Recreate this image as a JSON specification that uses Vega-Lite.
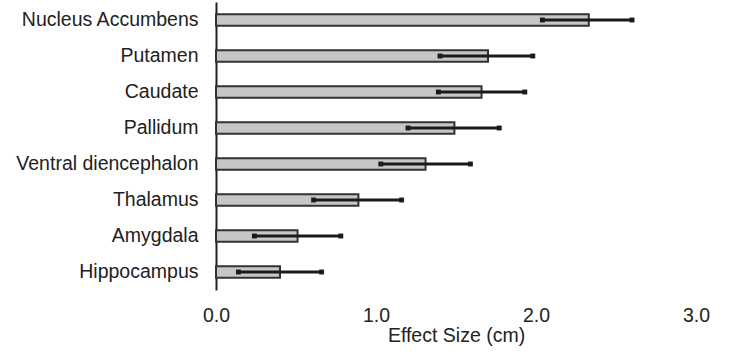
{
  "$schema": "https://vega.github.io/schema/vega-lite/v6.json",
  "width": 480,
  "height": 288,
  "autosize": "none",
  "padding": {"left": 216, "top": 2, "right": 46, "bottom": 71},
  "background": "white",
  "config": {
    "view": {"stroke": null},
    "font": "Liberation Sans"
  },
  "data": {
    "values": [
      {"region": "Nucleus Accumbens", "effect": 2.33, "lo": 2.04, "hi": 2.60},
      {"region": "Putamen", "effect": 1.70, "lo": 1.40, "hi": 1.98},
      {"region": "Caudate", "effect": 1.66, "lo": 1.39, "hi": 1.93},
      {"region": "Pallidum", "effect": 1.49, "lo": 1.20, "hi": 1.77},
      {"region": "Ventral diencephalon", "effect": 1.31, "lo": 1.03, "hi": 1.59},
      {"region": "Thalamus", "effect": 0.89, "lo": 0.61, "hi": 1.16},
      {"region": "Amygdala", "effect": 0.51, "lo": 0.24, "hi": 0.78},
      {"region": "Hippocampus", "effect": 0.40, "lo": 0.14, "hi": 0.66}
    ]
  },
  "encoding": {
    "y": {
      "field": "region",
      "type": "nominal",
      "sort": null,
      "scale": {"paddingInner": 0.68, "paddingOuter": 0.34},
      "axis": {
        "title": null,
        "ticks": false,
        "domain": true,
        "domainColor": "#222222",
        "domainWidth": 2,
        "labelFontSize": 19.5,
        "labelColor": "#222222",
        "labelPadding": 18,
        "labelLimit": 0,
        "labelFont": "Liberation Sans"
      }
    }
  },
  "layer": [
    {
      "mark": {"type": "bar", "fill": "#c6c6c6", "stroke": "#333333", "strokeWidth": 2},
      "encoding": {
        "x": {
          "field": "effect",
          "type": "quantitative",
          "scale": {"domain": [0, 3], "nice": false},
          "axis": {
            "title": "Effect Size (cm)",
            "values": [0, 1, 2, 3],
            "format": ".1f",
            "ticks": false,
            "domain": false,
            "grid": false,
            "labelFlush": false,
            "labelFontSize": 19.5,
            "labelColor": "#222222",
            "labelPadding": 16,
            "labelFont": "Liberation Sans",
            "titleFontSize": 19.5,
            "titleFontWeight": "normal",
            "titleColor": "#222222",
            "titleFont": "Liberation Sans",
            "titlePadding": 2
          }
        }
      }
    },
    {
      "mark": {"type": "rule", "stroke": "#1a1a1a", "strokeWidth": 3.2},
      "encoding": {
        "x": {"field": "lo", "type": "quantitative"},
        "x2": {"field": "hi"}
      }
    },
    {
      "mark": {"type": "point", "shape": "square", "filled": true, "size": 24, "color": "#1a1a1a", "opacity": 1},
      "encoding": {
        "x": {"field": "lo", "type": "quantitative"}
      }
    },
    {
      "mark": {"type": "point", "shape": "square", "filled": true, "size": 24, "color": "#1a1a1a", "opacity": 1},
      "encoding": {
        "x": {"field": "hi", "type": "quantitative"}
      }
    }
  ]
}
